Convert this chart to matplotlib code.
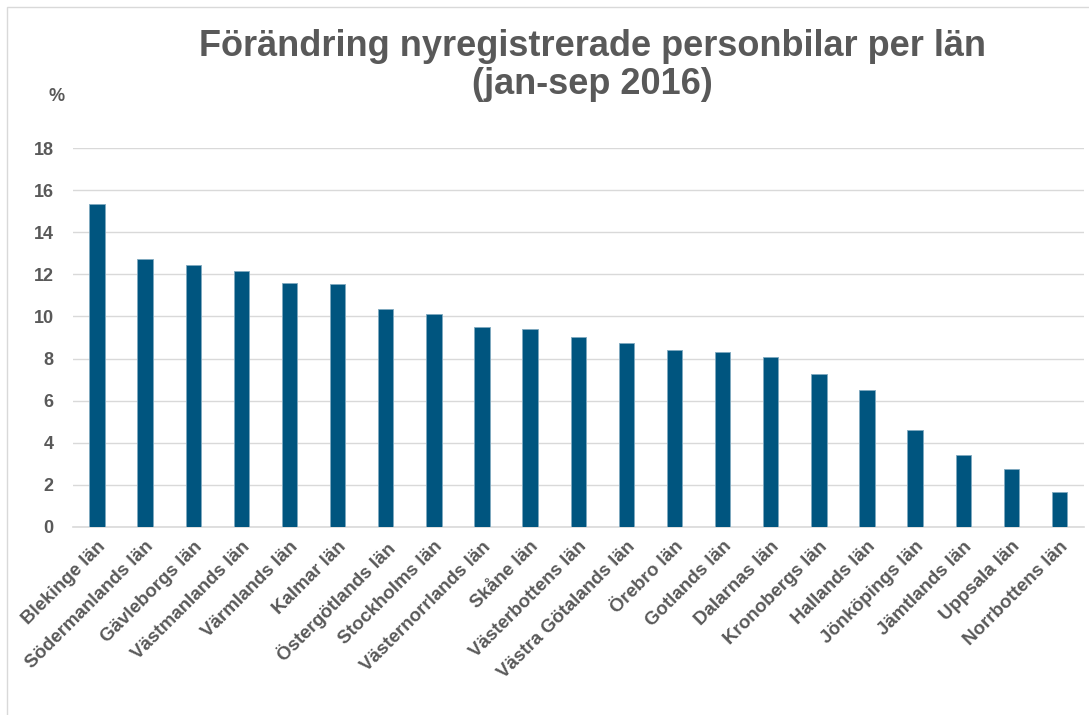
import matplotlib.pyplot as plt
from matplotlib.patches import Rectangle

plt.rcParams['font.family'] = ['Liberation Sans', 'DejaVu Sans']

lan = ["Blekinge län", "Södermanlands län", "Gävleborgs län", "Västmanlands län",
       "Värmlands län", "Kalmar län", "Östergötlands län", "Stockholms län",
       "Västernorrlands län", "Skåne län", "Västerbottens län", "Västra Götalands län",
       "Örebro län", "Gotlands län", "Dalarnas län", "Kronobergs län", "Hallands län",
       "Jönköpings län", "Jämtlands län", "Uppsala län", "Norrbottens län"]
forandring = [15.32, 12.72, 12.46, 12.18, 11.61, 11.55, 10.33, 10.12, 9.49, 9.39,
              9.01, 8.72, 8.39, 8.31, 8.05, 7.25, 6.49, 4.61, 3.40, 2.74, 1.68]
yticks = [0, 2, 4, 6, 8, 10, 12, 14, 16, 18]

grey = '#595959'
fig = plt.figure(figsize=(10.89, 7.15), dpi=100)
ax = fig.add_axes([0.067, 0.263, 0.928, 0.530])

ax.bar(range(len(lan)), forandring, width=0.32, color='#00557f',
       edgecolor='#7fa9c0', linewidth=0.6, zorder=3)

ax.set_xlim(-0.5, len(lan) - 0.5)
ax.set_ylim(0, 18)
ax.set_yticks(yticks)
ax.set_yticklabels([str(t) for t in yticks], fontsize=13, fontweight='bold', color=grey)
ax.set_xticks(range(len(lan)))
ax.set_xticklabels(lan, rotation=45, ha='right', rotation_mode='anchor',
                   fontsize=13.5, fontweight='bold', color=grey)
ax.tick_params(axis='y', length=0, pad=14)
ax.tick_params(axis='x', length=0, pad=8)
ax.grid(axis='y', color='#d9d9d9', linewidth=1, zorder=0)
for s in ['top', 'right', 'left']:
    ax.spines[s].set_visible(False)
ax.spines['bottom'].set_color('#d9d9d9')
ax.spines['bottom'].set_linewidth(1.2)

fig.text(0.544, 0.908, "Förändring nyregistrerade personbilar per län\n(jan-sep 2016)",
         ha='center', va='center', fontsize=26, fontweight='bold', color=grey,
         linespacing=1.1)
fig.text(0.052, 0.865, "%", ha='center', va='center', fontsize=13,
         fontweight='bold', color=grey)

fig.patches.append(Rectangle((0.006, -0.01), 1.2, 1.0, transform=fig.transFigure,
                             fill=False, edgecolor='#d9d9d9', linewidth=1))

fig.savefig('out.png', dpi=100)
